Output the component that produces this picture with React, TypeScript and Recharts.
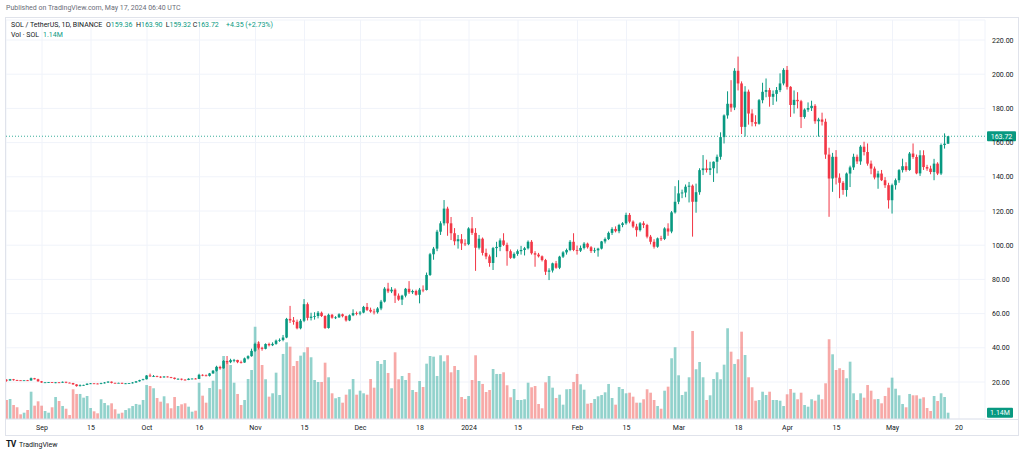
import React from 'react';
import { ComposedChart, Bar, XAxis, YAxis, CartesianGrid, ReferenceLine, Cell } from 'recharts';

// SOL / TetherUS, 1D, Binance — daily [open, high, low, close], Aug 22 2023 .. May 17 2024
const aug = [
  [21.3, 21.6, 20.2, 20.9], [20.9, 21.8, 20.7, 21.6], [21.6, 21.8, 20.8, 21.1], [21.1, 21.3, 20.6, 21.0], [21.0, 21.1, 20.8, 20.9],
  [20.9, 21.1, 20.8, 21.0], [21.0, 21.2, 20.6, 20.9], [20.9, 22.6, 20.7, 22.2], [22.2, 22.4, 21.5, 21.6], [21.6, 21.9, 20.2, 20.4],
];
const sep = [
  [20.4, 20.6, 19.5, 19.7], [19.7, 19.9, 19.5, 19.8], [19.8, 20.0, 19.5, 19.9], [19.9, 20.0, 19.4, 19.6], [19.6, 19.9, 19.3, 19.8],
  [19.8, 20.0, 19.4, 19.6], [19.6, 20.3, 19.5, 20.1], [20.1, 20.2, 19.3, 19.6], [19.6, 19.7, 19.3, 19.4], [19.4, 19.5, 18.4, 18.6],
  [18.6, 18.7, 17.3, 17.6], [17.6, 18.6, 17.4, 18.1], [18.1, 18.4, 17.8, 18.3], [18.3, 19.2, 18.2, 19.0], [19.0, 19.4, 18.8, 19.2],
  [19.2, 19.3, 18.9, 19.1], [19.1, 19.2, 18.7, 18.9], [18.9, 19.6, 18.7, 19.3], [19.3, 20.0, 19.1, 19.7], [19.7, 20.5, 19.4, 20.2],
  [20.2, 20.3, 19.2, 19.5], [19.5, 19.6, 19.2, 19.4], [19.4, 19.6, 19.3, 19.5], [19.5, 19.6, 18.9, 19.0], [19.0, 19.3, 18.8, 19.2],
  [19.2, 19.4, 18.9, 19.3], [19.3, 20.0, 19.1, 19.7], [19.7, 20.6, 19.5, 20.4], [20.4, 21.3, 20.2, 21.1], [21.1, 21.9, 21.0, 21.6],
];
const oct = [
  [21.6, 24.0, 21.5, 23.8], [23.8, 24.9, 23.0, 23.3], [23.3, 24.1, 22.9, 23.5], [23.5, 23.7, 22.8, 23.1], [23.1, 23.4, 22.3, 22.7],
  [22.7, 23.4, 22.5, 23.2], [23.2, 23.3, 22.7, 22.9], [22.9, 23.0, 22.2, 22.5], [22.5, 22.6, 21.5, 21.8], [21.8, 22.1, 21.3, 21.9],
  [21.9, 22.0, 21.0, 21.4], [21.4, 21.6, 20.9, 21.2], [21.2, 22.2, 21.1, 21.9], [21.9, 22.1, 21.6, 22.0], [22.0, 22.3, 21.6, 21.8],
  [21.8, 24.8, 21.7, 24.2], [24.2, 24.5, 23.4, 23.9], [23.9, 24.4, 23.3, 23.6], [23.6, 25.3, 23.2, 25.0], [25.0, 27.0, 24.8, 26.6],
  [26.6, 29.5, 26.1, 28.8], [28.8, 29.5, 27.2, 28.0], [28.0, 32.8, 27.8, 32.3], [32.3, 35.2, 30.5, 31.6], [31.6, 33.6, 31.0, 32.8],
  [32.8, 33.5, 31.5, 32.9], [32.9, 33.0, 31.0, 31.6], [31.6, 32.5, 30.8, 31.4], [31.4, 34.3, 31.2, 33.8], [33.8, 35.6, 33.2, 35.1],
  [35.1, 39.5, 34.8, 38.2],
];
const nov = [
  [38.2, 43.0, 37.5, 42.3], [42.3, 43.8, 39.0, 40.0], [40.0, 40.6, 38.3, 39.4], [39.4, 42.6, 39.1, 42.2], [42.2, 43.0, 40.8, 41.5],
  [41.5, 43.2, 41.0, 42.3], [42.3, 44.8, 41.8, 44.2], [44.2, 45.5, 43.5, 44.6], [44.6, 47.5, 43.8, 46.0], [46.0, 57.5, 45.6, 56.9],
  [56.9, 64.5, 54.5, 56.0], [56.0, 58.0, 53.5, 55.2], [55.2, 56.5, 50.8, 51.4], [51.4, 56.8, 50.8, 55.8], [55.8, 68.5, 55.0, 65.5],
  [65.5, 66.5, 56.0, 57.5], [57.5, 60.5, 56.0, 58.2], [58.2, 60.8, 56.5, 58.6], [58.6, 61.5, 57.2, 60.5], [60.5, 61.2, 58.0, 58.6],
  [58.6, 59.0, 51.0, 51.6], [51.6, 60.0, 51.2, 59.3], [59.3, 59.8, 57.0, 57.6], [57.6, 58.5, 56.8, 57.8], [57.8, 60.2, 57.5, 59.6],
  [59.6, 60.0, 57.8, 58.5], [58.5, 58.8, 55.3, 56.0], [56.0, 59.5, 55.6, 59.0], [59.0, 62.5, 58.5, 60.3], [60.3, 61.2, 59.0, 60.0],
];
const dec = [
  [60.0, 61.5, 59.0, 60.6], [60.6, 64.5, 60.2, 63.9], [63.9, 66.2, 61.5, 62.2], [62.2, 63.5, 60.5, 61.2], [61.2, 62.8, 59.5, 60.8],
  [60.8, 63.8, 60.0, 63.0], [63.0, 68.0, 62.0, 67.0], [67.0, 75.5, 66.5, 74.6], [74.6, 78.0, 72.0, 73.0], [73.0, 75.5, 72.0, 74.0],
  [74.0, 74.8, 66.2, 70.5], [70.5, 71.8, 67.5, 68.2], [68.2, 71.0, 65.0, 70.5], [70.5, 75.0, 69.5, 74.5], [74.5, 79.0, 71.5, 72.5],
  [72.5, 74.0, 71.5, 73.2], [73.2, 74.0, 70.5, 71.0], [71.0, 75.0, 66.0, 74.0], [74.0, 76.5, 72.5, 73.8], [73.8, 84.0, 73.5, 82.6],
  [82.6, 95.5, 82.0, 94.7], [94.7, 99.0, 91.5, 98.0], [98.0, 109.0, 96.5, 107.9], [107.9, 114.0, 106.0, 112.8], [112.8, 126.4, 111.5, 121.4],
  [121.4, 122.5, 105.5, 112.8], [112.8, 116.5, 103.0, 107.0], [107.0, 110.0, 100.0, 102.3], [102.3, 106.0, 98.0, 103.5], [103.5, 106.5, 97.2, 101.0],
  [101.0, 103.5, 99.5, 100.6],
];
const jan = [
  [100.6, 110.5, 100.0, 109.8], [109.8, 116.5, 106.0, 107.2], [107.2, 110.0, 85.0, 98.5], [98.5, 106.0, 97.5, 103.8], [103.8, 104.5, 94.0, 95.5],
  [95.5, 98.0, 91.8, 93.4], [93.4, 94.5, 87.4, 89.6], [89.6, 99.0, 85.5, 98.3], [98.3, 102.0, 93.0, 99.0], [99.0, 104.0, 96.5, 102.8],
  [102.8, 107.0, 99.5, 100.2], [100.2, 101.5, 88.0, 96.5], [96.5, 97.5, 92.0, 92.6], [92.6, 95.8, 92.0, 94.9], [94.9, 97.5, 93.8, 96.5],
  [96.5, 99.6, 94.5, 97.2], [97.2, 99.0, 94.0, 98.2], [98.2, 102.8, 97.5, 102.0], [102.0, 103.0, 94.5, 95.3], [95.3, 96.5, 87.4, 94.5],
  [94.5, 95.5, 92.8, 93.5], [93.5, 94.0, 90.5, 91.3], [91.3, 92.0, 82.6, 84.5], [84.5, 86.5, 79.6, 85.2], [85.2, 89.8, 84.0, 89.4],
  [89.4, 90.8, 86.2, 86.8], [86.8, 93.8, 86.0, 93.3], [93.3, 96.5, 92.5, 95.8], [95.8, 98.0, 94.5, 97.2], [97.2, 103.0, 96.5, 102.0],
  [102.0, 107.0, 96.5, 97.2],
];
const feb = [
  [97.2, 99.8, 94.5, 96.8], [96.8, 99.8, 96.0, 98.4], [98.4, 101.8, 97.5, 100.9], [100.9, 101.5, 98.0, 98.8], [98.8, 99.5, 95.5, 96.6],
  [96.6, 98.5, 95.5, 97.0], [97.0, 98.5, 93.3, 98.0], [98.0, 102.5, 97.5, 102.2], [102.2, 104.5, 101.0, 103.6], [103.6, 108.0, 103.0, 107.2],
  [107.2, 110.5, 106.0, 109.5], [109.5, 111.0, 107.5, 108.2], [108.2, 112.5, 107.0, 111.8], [111.8, 113.5, 110.5, 112.8], [112.8, 119.0, 112.0, 117.7],
  [117.7, 118.8, 112.8, 113.8], [113.8, 114.5, 110.0, 110.9], [110.9, 112.5, 105.0, 108.8], [108.8, 113.5, 108.0, 112.8], [112.8, 114.0, 110.0, 111.8],
  [111.8, 112.5, 104.0, 105.0], [105.0, 106.0, 100.5, 102.0], [102.0, 103.5, 98.0, 99.1], [99.1, 104.5, 98.5, 104.0], [104.0, 105.5, 102.5, 103.7],
  [103.7, 110.5, 103.0, 109.8], [109.8, 112.8, 105.5, 108.0], [108.0, 120.0, 107.0, 119.2], [119.2, 134.5, 118.5, 125.4],
];
const mar = [
  [125.4, 138.0, 124.0, 130.3], [130.3, 132.5, 127.5, 130.8], [130.8, 135.5, 128.0, 134.2], [134.2, 137.0, 125.0, 134.8], [134.8, 135.5, 105.0, 125.4],
  [125.4, 136.0, 119.0, 131.0], [131.0, 145.0, 129.5, 143.9], [143.9, 152.7, 141.0, 144.9], [144.9, 150.0, 142.5, 144.0], [144.0, 148.8, 141.0, 145.0],
  [145.0, 149.0, 137.0, 148.8], [148.8, 153.0, 142.0, 151.7], [151.7, 166.0, 150.0, 163.2], [163.2, 176.5, 159.5, 175.9], [175.9, 190.0, 174.0, 182.7],
  [182.7, 196.5, 178.0, 180.5], [180.5, 203.5, 179.0, 202.0], [202.0, 210.3, 190.5, 194.6], [194.6, 195.8, 165.0, 169.2], [169.2, 193.0, 163.5, 189.8],
  [189.8, 191.0, 170.5, 177.0], [177.0, 179.5, 169.5, 172.0], [172.0, 176.0, 169.5, 171.0], [171.0, 185.5, 170.5, 184.8], [184.8, 195.0, 183.0, 189.7],
  [189.7, 197.5, 186.5, 190.7], [190.7, 192.0, 181.0, 186.8], [186.8, 190.5, 182.0, 188.5], [188.5, 192.5, 184.0, 190.7], [190.7, 200.5, 189.5, 194.6],
  [194.6, 203.5, 193.5, 202.5],
];
const apr = [
  [202.5, 204.8, 191.0, 192.6], [192.6, 193.0, 175.0, 182.0], [182.0, 190.5, 177.0, 185.0], [185.0, 189.5, 180.0, 184.2], [184.2, 185.0, 168.5, 175.0],
  [175.0, 180.0, 174.0, 179.3], [179.3, 183.5, 178.0, 180.2], [180.2, 184.5, 178.5, 181.5], [181.5, 182.5, 171.0, 172.5], [172.5, 174.5, 163.5, 173.5],
  [173.5, 177.5, 170.0, 172.2], [172.2, 174.0, 150.5, 153.0], [153.0, 157.0, 116.6, 139.0], [139.0, 154.0, 131.2, 151.7], [151.7, 155.6, 135.5, 139.5],
  [139.5, 142.0, 127.5, 136.5], [136.5, 137.5, 129.5, 132.3], [132.3, 142.5, 128.4, 141.9], [141.9, 146.5, 134.0, 145.5], [145.5, 153.5, 144.0, 151.7],
  [151.7, 153.0, 147.5, 149.0], [149.0, 158.5, 147.0, 157.6], [157.6, 160.5, 152.5, 154.5], [154.5, 159.5, 146.5, 147.7], [147.7, 149.5, 141.5, 144.8],
  [144.8, 146.0, 138.5, 139.6], [139.6, 143.5, 133.0, 141.9], [141.9, 144.0, 137.5, 138.0], [138.0, 139.8, 133.5, 135.1], [135.1, 136.5, 121.4, 126.3],
];
const may = [
  [126.3, 136.0, 118.5, 135.1], [135.1, 139.0, 132.5, 138.0], [138.0, 144.5, 136.5, 143.9], [143.9, 150.6, 142.5, 146.2], [146.2, 148.5, 143.0, 144.0],
  [144.0, 154.5, 143.5, 153.6], [153.6, 159.5, 150.5, 151.6], [151.6, 153.0, 141.5, 142.0], [142.0, 155.5, 140.5, 152.6], [152.6, 155.5, 144.0, 145.7],
  [145.7, 147.0, 143.5, 144.8], [144.8, 146.5, 141.5, 142.8], [142.8, 150.5, 138.0, 147.7], [147.7, 148.5, 141.0, 141.9], [141.9, 159.5, 141.0, 158.6],
  [158.6, 165.4, 156.5, 159.36], [159.36, 163.9, 159.32, 163.72],
];

// daily volume, millions of SOL
const volAug = [3.44, 3.62, 2.53, 2.12, 0.85, 1.14, 1.63, 4.94, 2.41, 3.2];
const volSep = [2.41, 1.45, 1.14, 2.12, 3.98, 3.26, 2.35, 1.86, 0.72, 5.38, 4.53, 4.53, 3.86, 4.16, 1.99, 1.39, 1.03, 3.57, 2.9, 2.48, 2.84, 1.76, 0.96, 1.14, 1.63, 1.94, 2.35, 2.72, 2.59, 3.44];
const volOct = [6.15, 5.97, 5.56, 3.8, 3.13, 4.11, 2.84, 1.94, 3.98, 2.35, 2.66, 2.84, 2.23, 1.32, 1.5, 6.57, 4.22, 2.95, 5.61, 6.93, 9.47, 5.38, 11.4, 10.37, 9.77, 6.57, 4.53, 2.53, 3.44, 7.24, 8.87];
const volNov = [16.71, 13.94, 9.77, 7.19, 4.04, 4.65, 8.38, 4.34, 11.77, 13.88, 13.09, 9.59, 10.5, 11.46, 12.07, 12.98, 11.17, 7.06, 6.7, 6.7, 10.19, 7.55, 4.65, 3.75, 3.98, 2.95, 4.4, 5.38, 7.24, 4.4];
const volDec = [5.12, 4.65, 4.4, 7.24, 5.67, 10.5, 9.96, 10.68, 8.33, 5.56, 12.07, 7.19, 7.78, 7.06, 8.33, 5.25, 4.89, 6.88, 5.79, 10.01, 11.4, 11.28, 7.78, 11.53, 10.44, 11.53, 8.45, 9.59, 8.87, 3.98, 3.62];
const volJan = [4.16, 7.06, 11.53, 6.88, 6.34, 4.89, 5.25, 9.05, 8.15, 8.15, 8.45, 6.1, 3.93, 5.43, 3.44, 3.44, 3.57, 6.57, 5.74, 5.97, 2.72, 1.94, 6.64, 7.78, 5.67, 3.8, 4.4, 2.59, 5.38, 5.43, 6.7];
const volFeb = [8.15, 6.28, 5.3, 2.77, 2.9, 3.62, 4.11, 4.34, 4.83, 6.34, 3.8, 2.59, 5.79, 5.43, 4.65, 4.76, 4.04, 2.95, 2.95, 3.57, 5.38, 4.76, 3.44, 2.35, 1.86, 5.12, 5.85, 10.99, 12.98];
const volMar = [7.91, 4.34, 4.94, 7.55, 15.93, 9.0, 10.32, 7.55, 3.44, 4.29, 7.24, 8.45, 7.19, 9.83, 16.42, 12.18, 9.96, 10.81, 15.8, 11.58, 7.55, 5.74, 3.31, 3.44, 4.94, 4.34, 4.94, 3.44, 3.44, 3.31, 2.35];
const volApr = [4.47, 5.43, 4.76, 3.57, 4.76, 2.53, 2.23, 3.57, 3.31, 4.4, 3.57, 6.46, 14.43, 11.71, 8.87, 9.18, 8.87, 7.37, 10.37, 4.65, 3.44, 4.65, 3.86, 6.15, 5.12, 3.57, 3.62, 2.84, 4.16, 5.67];
const volMay = [7.48, 5.48, 4.29, 2.72, 2.12, 4.53, 4.29, 4.29, 3.67, 3.93, 1.99, 1.45, 4.16, 3.26, 4.65, 3.98, 1.14];

// time axis: day index (0 = Aug 22) and label
const tickDays = [10, 24, 40, 55, 71, 85, 101, 118, 132, 146, 163, 177, 192, 209, 223, 237, 253, 272];
const tickLabels = ['Sep', '15', 'Oct', '16', 'Nov', '15', 'Dec', '18', '2024', '15', 'Feb', '15', 'Mar', '18', 'Apr', '15', 'May', '20'];
const priceTicks = [20, 40, 60, 80, 100, 120, 140, 160, 180, 200, 220];
const lastClose = 163.72;
const lastVol = 1.14;

const UP = '#089981';
const DOWN = '#f23645';
const VOL_UP = 'rgba(38,166,154,0.5)';
const VOL_DOWN = 'rgba(239,83,80,0.5)';
const FONT = 'Roboto, "Liberation Sans", Arial, sans-serif';

const candles = [...aug, ...sep, ...oct, ...nov, ...dec, ...jan, ...feb, ...mar, ...apr, ...may];
const volumes = [...volAug, ...volSep, ...volOct, ...volNov, ...volDec, ...volJan, ...volFeb, ...volMar, ...volApr, ...volMay];

const rows = candles.map(([o, h, l, c], i) => ({
  i, o, h, l, c,
  range: [l, h],
  vol: volumes[i],
  up: c >= o,
}));

const Candle = (props: any) => {
  const { x, y, width, height, payload } = props;
  if (!payload || x == null || y == null) return null;
  const { o, h, l, c, up } = payload;
  const top = Math.min(y, y + height);
  const bot = Math.max(y, y + height);
  const k = h > l ? (bot - top) / (h - l) : 0;
  const yo = top + (h - o) * k;
  const yc = top + (h - c) * k;
  const col = up ? UP : DOWN;
  const cx = x + width / 2;
  const bTop = Math.min(yo, yc);
  const bH = Math.max(Math.abs(yo - yc), 0.8);
  return (
    <g>
      <line x1={cx} x2={cx} y1={top} y2={bot} stroke={col} strokeWidth={1} />
      <rect x={x} y={bTop} width={width} height={bH} fill={col} />
    </g>
  );
};

const DateTick = (p: any) => {
  const k = tickDays.indexOf(p.payload.value);
  return (
    <text x={p.x} y={p.y + 10.5} textAnchor="middle" fontSize={7} fontFamily={FONT} fill="#131722">
      {k >= 0 ? tickLabels[k] : ''}
    </text>
  );
};

const PriceTick = (p: any) => (
  <text x={p.x + 7} y={p.y + 2.5} textAnchor="start" fontSize={7} fontFamily={FONT} fill="#131722">
    {Number(p.payload.value).toFixed(2)}
  </text>
);

const Tag = ({ viewBox, text, w }: any) => {
  if (!viewBox) return null;
  const x = viewBox.x + viewBox.width + 2;
  const y = viewBox.y;
  return (
    <g>
      <rect x={x} y={y - 5} width={w} height={10} rx={1} fill={UP} />
      <text x={x + w / 2} y={y + 2.5} textAnchor="middle" fontSize={7} fontFamily={FONT} fill="#fff">{text}</text>
    </g>
  );
};

export default function App() {
  return (
    <div style={{ position: 'absolute', left: 0, top: 0, width: 1024, height: 456, background: '#fff', overflow: 'hidden' }}>
      <ComposedChart width={1024} height={456} data={rows} margin={{ top: 20, right: 3, bottom: 21, left: 6 }}>
        <CartesianGrid stroke="#f0f3fa" />
        <XAxis
          dataKey="i" type="number" domain={[-0.285714, 279.428571]} allowDataOverflow
          ticks={tickDays} interval={0} height={16} tickSize={0} tickMargin={0}
          axisLine={{ stroke: '#e0e3eb' }} tickLine={false} tick={DateTick}
        />
        <XAxis xAxisId="v" dataKey="i" type="number" domain={[-0.285714, 279.428571]} allowDataOverflow hide />
        <YAxis
          orientation="right" type="number" domain={[-1.637, 231.696]} allowDataOverflow
          ticks={priceTicks} interval={0} width={36} tickSize={0} tickMargin={0}
          axisLine={false} tickLine={false} tick={PriceTick}
        />
        <YAxis yAxisId="v" type="number" domain={[0, 72.2]} allowDataOverflow hide />
        <Bar xAxisId="v" yAxisId="v" dataKey="vol" barSize={2.7} isAnimationActive={false}>
          {rows.map((r) => (
            <Cell key={r.i} fill={r.up ? VOL_UP : VOL_DOWN} />
          ))}
        </Bar>
        <ReferenceLine y={lastClose} stroke={UP} strokeOpacity={0.8} strokeDasharray="1 2"
          label={(p: any) => <Tag viewBox={p.viewBox} text={lastClose.toFixed(2)} w={29} />} />
        <Bar dataKey="range" barSize={2.6} isAnimationActive={false} shape={(p: any) => <Candle {...p} />} />
        <ReferenceLine xAxisId="v" yAxisId="v" y={lastVol} stroke="none"
          label={(p: any) => <Tag viewBox={p.viewBox} text={`${lastVol.toFixed(2)}M`} w={26} />} />
      </ComposedChart>

      <svg width={1024} height={456} style={{ position: 'absolute', left: 0, top: 0, pointerEvents: 'none' }} fontFamily={FONT}>
        <text x={6} y={9.5} fontSize={7} fill="#6a6d78">Published on TradingView.com, May 17, 2024 06:40 UTC</text>
        <rect x={5.5} y={17.5} width={1013} height={418} fill="none" stroke="#e0e3eb" />
        <line x1={985} x2={1018.5} y1={419.5} y2={419.5} stroke="#e0e3eb" />
        <text y={26.8} fontSize={7} fill="#131722">
          <tspan x={11}>SOL / TetherUS, 1D, BINANCE</tspan>
          <tspan x={106}>O</tspan><tspan fill={UP}>159.36</tspan>
          <tspan x={136}>H</tspan><tspan fill={UP}>163.90</tspan>
          <tspan x={165.7}>L</tspan><tspan fill={UP}>159.32</tspan>
          <tspan x={192.7}>C</tspan><tspan fill={UP}>163.72</tspan>
          <tspan x={226} fill={UP}>+4.35 (+2.73%)</tspan>
        </text>
        <text y={36.5} fontSize={7} fill="#131722">
          <tspan x={11}>Vol · SOL</tspan>
          <tspan x={43} fill={UP}>1.14M</tspan>
        </text>
        <text x={6} y={447} fontSize={8.5} fontWeight={700} fill="#131722" letterSpacing={-0.5}>TV</text>
        <text x={19} y={446.5} fontSize={7} fill="#131722">TradingView</text>
      </svg>
    </div>
  );
}
